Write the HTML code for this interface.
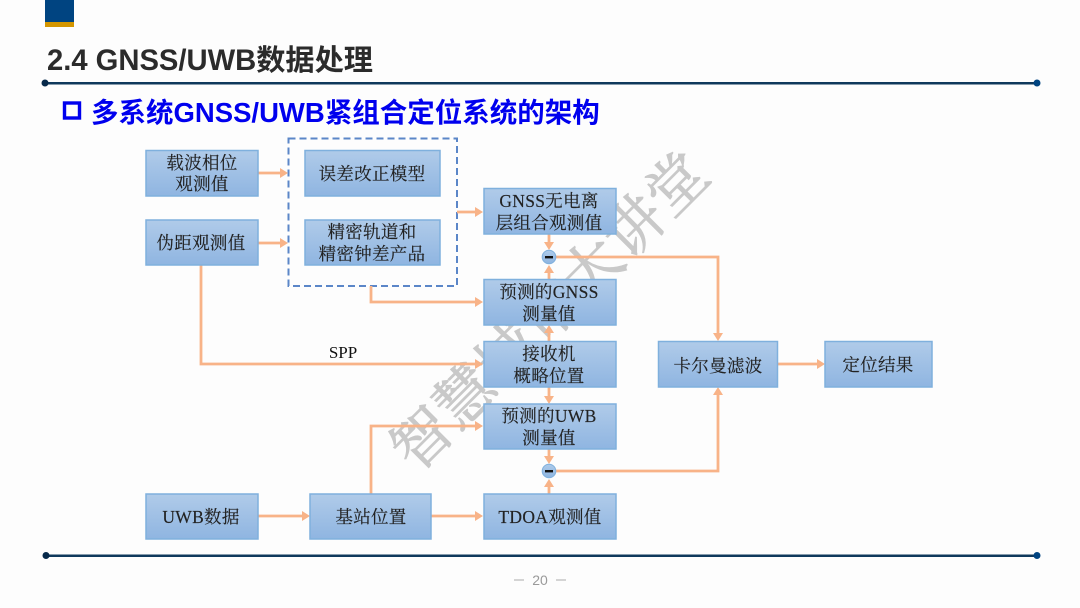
<!DOCTYPE html>
<html><head><meta charset="utf-8"><style>
html,body{margin:0;padding:0;background:#fdfdfd}
svg{display:block}
.b{fill:url(#g);stroke:#7fb0dd;stroke-width:1.5}
.t{font-family:"Liberation Serif","Noto Serif CJK SC",serif;font-size:17.5px;fill:#222;text-anchor:middle;letter-spacing:.3px;stroke:#222;stroke-width:.15}
.l{fill:none;stroke:#f8b388;stroke-width:2.8}
.a{fill:#f8b388}
</style></head><body>
<svg width="1080" height="608" viewBox="0 0 1080 608" xmlns="http://www.w3.org/2000/svg">
<defs><linearGradient id="g" x1="0" y1="0" x2="0" y2="1"><stop offset="0" stop-color="#b0cbe9"/><stop offset="1" stop-color="#8fb5e1"/></linearGradient>
<linearGradient id="c" x1="0" y1="0" x2="0" y2="1"><stop offset="0" stop-color="#aecbea"/><stop offset="1" stop-color="#8db4e0"/></linearGradient></defs>
<rect width="1080" height="608" fill="#fdfdfd"/>
<rect x="45" y="0" width="29" height="22" fill="#004481"/>
<rect x="45" y="22" width="29" height="5" fill="#d49600"/>
<text x="47" y="70" font-family="'Liberation Sans','Noto Sans CJK SC',sans-serif" font-size="29.200" font-weight="700" fill="#2b2b2b">2.4 GNSS/UWB数据处理</text>
<rect x="45" y="82" width="992" height="2.500" fill="#10395c"/>
<circle cx="45" cy="83" r="3.500" fill="#06294a"/><circle cx="1037" cy="83" r="3.500" fill="#004481"/>
<rect x="64.500" y="103" width="15" height="15" fill="none" stroke="#0000ee" stroke-width="3.400"/>
<text x="91" y="122" font-family="'Liberation Sans','Noto Sans CJK SC',sans-serif" font-size="27.500" font-weight="700" fill="#0000ee">多系统GNSS/UWB紧组合定位系统的架构</text>
<g transform="translate(416,474) rotate(-45)"><text x="0" y="0" font-family="'Liberation Serif','Noto Serif CJK SC',serif" font-size="59" fill="#c9c9c9" stroke="#c9c9c9" stroke-width="1" letter-spacing="1">智慧城市大讲堂</text></g>
<rect x="288.500" y="138.500" width="168.500" height="147.500" fill="none" stroke="#5b86c8" stroke-width="2" stroke-dasharray="7,4"/>
<g class="l">
<path d="M258 173H282M258 243H282M457 212H477M371 286V302H477M201 265V364H477M549 234V245M549 279V268M556 257H718V334M549 341V331M549 387V398M549 449V459M549 494V484M556 471H718V393M371 494V426H477M258 516H304M431 516H477M778 364H819"/>
</g>
<g class="a">
<path d="M288 173l-8-5v10zM288 243l-8-5v10zM483 212l-8-5v10zM483 302l-8-5v10zM483 364l-8-5v10zM483 426l-8-5v10zM310 516l-8-5v10zM483 516l-8-5v10zM825 364l-8-5v10z"/>
<path d="M549 250l-5-8h10zM718 341l-5-8h10zM549 404l-5-8h10zM549 464l-5-8h10z"/>
<path d="M549 265l-5 8h10zM549 325l-5 8h10zM549 479l-5 8h10zM718 387l-5 8h10z"/>
</g>
<rect class="b" x="146" y="150.500" width="112" height="45.500"/>
<rect class="b" x="146" y="220" width="112" height="45"/>
<rect class="b" x="305" y="150.500" width="135" height="45.500"/>
<rect class="b" x="305" y="220" width="135" height="45"/>
<rect class="b" x="484" y="188.500" width="132" height="45.500"/>
<rect class="b" x="484" y="279.500" width="132" height="45.500"/>
<rect class="b" x="484" y="341.500" width="132" height="45.500"/>
<rect class="b" x="484" y="404" width="132" height="45"/>
<rect class="b" x="484" y="494" width="132" height="45"/>
<rect class="b" x="658.500" y="341.500" width="119" height="45.500"/>
<rect class="b" x="825" y="341.500" width="107" height="45.500"/>
<rect class="b" x="146" y="494" width="112" height="45"/>
<rect class="b" x="310" y="494" width="121" height="45"/>
<circle cx="549" cy="257" r="6.800" fill="url(#c)" stroke="#7fb0dd"/><rect x="545" y="256" width="8" height="2.400" fill="#111"/>
<circle cx="549" cy="471" r="6.800" fill="url(#c)" stroke="#7fb0dd"/><rect x="545" y="470" width="8" height="2.400" fill="#111"/>
<text class="t" x="202" y="169">载波相位</text><text class="t" x="202" y="190">观测值</text>
<text class="t" x="201" y="249">伪距观测值</text>
<text class="t" x="372" y="180">误差改正模型</text>
<text class="t" x="372" y="238">精密轨道和</text><text class="t" x="372" y="260">精密钟差产品</text>
<text class="t" x="549" y="207">GNSS无电离</text><text class="t" x="549" y="229">层组合观测值</text>
<text class="t" x="549" y="298">预测的GNSS</text><text class="t" x="549" y="320">测量值</text>
<text class="t" x="549" y="360">接收机</text><text class="t" x="549" y="382">概略位置</text>
<text class="t" x="549" y="422">预测的UWB</text><text class="t" x="549" y="444">测量值</text>
<text class="t" x="550" y="523">TDOA观测值</text>
<text class="t" x="718" y="372">卡尔曼滤波</text>
<text class="t" x="878" y="371">定位结果</text>
<text class="t" x="201" y="523">UWB数据</text>
<text class="t" x="371" y="523">基站位置</text>
<text x="343" y="358" font-family="'Liberation Serif',serif" font-size="17" fill="#111" text-anchor="middle">SPP</text>
<rect x="45" y="554.500" width="992" height="2.500" fill="#10395c"/>
<circle cx="46" cy="555.500" r="3.500" fill="#06294a"/><circle cx="1037" cy="555.500" r="3.500" fill="#004481"/>
<text x="540" y="585" font-family="'Liberation Sans',sans-serif" font-size="14" fill="#9a9a9a" text-anchor="middle">20</text>
<rect x="514" y="579.500" width="10" height="1" fill="#aaa"/><rect x="556" y="579.500" width="10" height="1" fill="#aaa"/>
</svg>
</body></html>
